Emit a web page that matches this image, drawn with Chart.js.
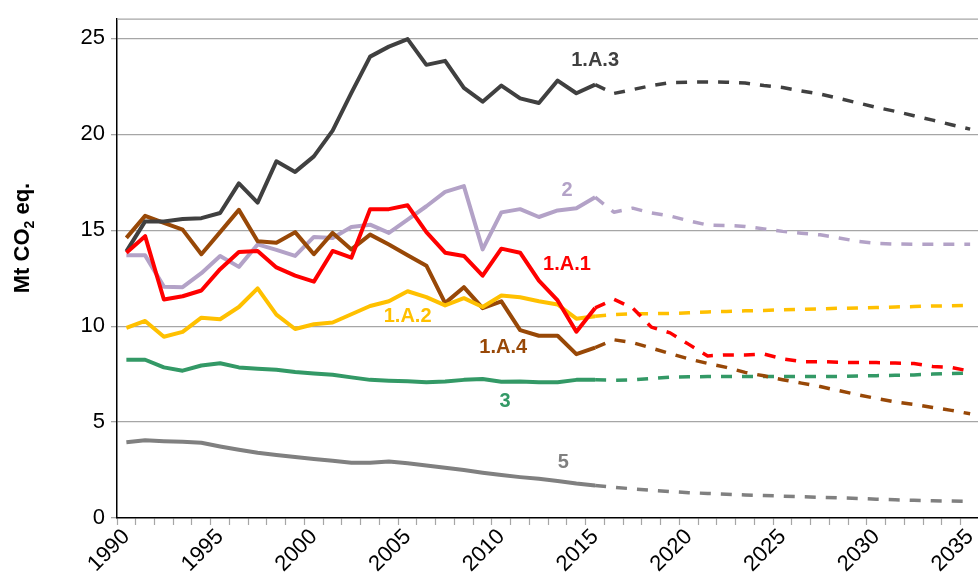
<!DOCTYPE html>
<html>
<head>
<meta charset="utf-8">
<script src="https://cdn.jsdelivr.net/npm/chart.js@4.4.1/dist/chart.umd.min.js"></script>
<style>
  html, body { margin: 0; padding: 0; background: #fff; overflow: hidden; }
  canvas { display: block; }
</style>
</head>
<body>
<canvas id="myChart" width="978" height="583"></canvas>
<script>
// years 1990-2035, history up to 2015, projection after
const years = [1990, 1991, 1992, 1993, 1994, 1995, 1996, 1997, 1998, 1999,
  2000, 2001, 2002, 2003, 2004, 2005, 2006, 2007, 2008, 2009,
  2010, 2011, 2012, 2013, 2014, 2015, 2016, 2017, 2018, 2019,
  2020, 2021, 2022, 2023, 2024, 2025, 2026, 2027, 2028, 2029,
  2030, 2031, 2032, 2033, 2034, 2035];
const lastHistoryYear = 2015;
const yTicks = [0, 5, 10, 15, 20, 25];
const xLabelYears = [1990, 1995, 2000, 2005, 2010, 2015, 2020, 2025, 2030, 2035];

const s1A1 = [13.83, 14.69, 11.39, 11.56, 11.86, 12.97, 13.87, 13.92, 13.06, 12.63,
  12.32, 13.92, 13.57, 16.1, 16.1, 16.3, 14.9, 13.83, 13.66, 12.63,
  14.04, 13.83, 12.37, 11.34, 9.71, 10.95, 11.4, 10.95, 9.95, 9.65,
  9.05, 8.45, 8.5, 8.5, 8.55, 8.3, 8.15, 8.15, 8.12, 8.1,
  8.1, 8.08, 8.05, 7.9, 7.85, 7.65];
const s1A2 = [9.91, 10.27, 9.45, 9.7, 10.44, 10.36, 11.0, 11.97, 10.6, 9.85,
  10.1, 10.19, 10.62, 11.05, 11.3, 11.82, 11.51, 11.08, 11.46, 11.0,
  11.6, 11.51, 11.3, 11.13, 10.39, 10.52, 10.6, 10.65, 10.65, 10.66,
  10.7, 10.74, 10.77, 10.8, 10.82, 10.85, 10.88, 10.9, 10.93, 10.95,
  10.97, 11.0, 11.02, 11.05, 11.06, 11.08];
const s1A3 = [13.9, 15.46, 15.46, 15.58, 15.63, 15.9, 17.44, 16.44, 18.59, 18.04,
  18.85, 20.19, 22.16, 24.05, 24.57, 24.96, 23.62, 23.83, 22.42, 21.7,
  22.54, 21.87, 21.63, 22.8, 22.14, 22.59, 22.13, 22.33, 22.54, 22.7,
  22.72, 22.73, 22.72, 22.67, 22.54, 22.44, 22.26, 22.1, 21.87, 21.64,
  21.4, 21.2, 20.97, 20.74, 20.5, 20.27];
const s1A4 = [14.6, 15.75, 15.38, 15.03, 13.75, 14.9, 16.06, 14.43, 14.35, 14.9,
  13.75, 14.86, 14.0, 14.77, 14.26, 13.7, 13.15, 11.2, 12.03, 10.94,
  11.29, 9.79, 9.5, 9.5, 8.54, 8.88, 9.29, 9.14, 8.86, 8.57,
  8.29, 8.06, 7.85, 7.59, 7.41, 7.21, 7.03, 6.85, 6.64, 6.43,
  6.23, 6.05, 5.92, 5.76, 5.61, 5.43];
const s2 = [13.69, 13.69, 12.06, 12.03, 12.76, 13.66, 13.09, 14.26, 13.98, 13.66,
  14.65, 14.6, 15.17, 15.29, 14.86, 15.55, 16.25, 17.0, 17.3, 14.0,
  15.93, 16.1, 15.69, 16.03, 16.15, 16.72, 15.94, 16.15, 15.9, 15.74,
  15.49, 15.27, 15.25, 15.2, 15.07, 14.94, 14.84, 14.76, 14.6, 14.42,
  14.32, 14.28, 14.27, 14.27, 14.27, 14.27];
const s3 = [8.25, 8.25, 7.85, 7.68, 7.95, 8.07, 7.85, 7.78, 7.73, 7.61,
  7.53, 7.47, 7.33, 7.2, 7.16, 7.13, 7.08, 7.12, 7.2, 7.25,
  7.1, 7.12, 7.08, 7.08, 7.2, 7.2, 7.18, 7.2, 7.27, 7.34,
  7.36, 7.37, 7.37, 7.37, 7.37, 7.37, 7.37, 7.37, 7.37, 7.4,
  7.42, 7.44, 7.46, 7.5, 7.53, 7.56];
const s5 = [3.95, 4.05, 4.0, 3.97, 3.92, 3.73, 3.56, 3.4, 3.28, 3.18,
  3.08, 2.98, 2.88, 2.88, 2.95, 2.85, 2.74, 2.62, 2.5, 2.36,
  2.24, 2.13, 2.04, 1.93, 1.8, 1.7, 1.6, 1.52, 1.45, 1.38,
  1.32, 1.28, 1.24, 1.2, 1.17, 1.14, 1.11, 1.08, 1.05, 1.02,
  0.98, 0.95, 0.92, 0.9, 0.88, 0.86];

const seriesNames = ['1.A.1', '1.A.2', '1.A.3', '1.A.4', '2', '3', '5'];
const seriesValues = [s1A1, s1A2, s1A3, s1A4, s2, s3, s5];
const seriesColors = ['#FF0000', '#FFC000', '#404040', '#984807', '#B3A2C7', '#339966', '#808080'];

// label anchors in data units (year, value)
const labelYears = [2013.5, 2005.0, 2015.0, 2010.1, 2013.5, 2010.2, 2013.3];
const labelValues = [13.23, 10.53, 23.83, 8.88, 17.08, 6.08, 2.87];

const FONT = "'Liberation Sans', Arial, sans-serif";
const histIndex = years.indexOf(lastHistoryYear);

const datasets = seriesNames.map((name, k) => ({
  label: name,
  data: years.map((yr, i) => ({ x: yr, y: seriesValues[k][i] })),
  borderColor: seriesColors[k],
  borderWidth: 4,
  borderJoinStyle: 'round',
  borderCapStyle: 'butt',
  pointRadius: 0,
  tension: 0,
  segment: {
    borderDash: ctx => ctx.p0DataIndex >= histIndex ? [11, 10] : undefined,
    borderWidth: ctx => ctx.p0DataIndex >= histIndex ? 3.5 : 4
  }
}));

const extras = {
  id: 'extras',
  afterDraw(chart) {
    const { ctx, chartArea, scales } = chart;
    ctx.save();
    // top frame line
    ctx.strokeStyle = '#A6A6A6';
    ctx.lineWidth = 1.3;
    ctx.beginPath();
    ctx.moveTo(chartArea.left, chartArea.top);
    ctx.lineTo(chartArea.right, chartArea.top);
    ctx.stroke();

    // series labels
    ctx.font = 'bold 20px ' + FONT;
    ctx.textAlign = 'center';
    ctx.textBaseline = 'middle';
    seriesNames.forEach((name, k) => {
      ctx.fillStyle = seriesColors[k];
      ctx.fillText(name, scales.x.getPixelForValue(labelYears[k]), scales.y.getPixelForValue(labelValues[k]));
    });

    // y axis title with subscript
    ctx.translate(23, 238);
    ctx.rotate(-Math.PI / 2);
    ctx.fillStyle = '#000';
    ctx.textAlign = 'left';
    ctx.textBaseline = 'middle';
    const big = 'bold 22px ' + FONT;
    const small = 'bold 14px ' + FONT;
    ctx.font = big;
    const w1 = ctx.measureText('Mt CO').width;
    ctx.font = small;
    const w2 = ctx.measureText('2').width;
    ctx.font = big;
    const w3 = ctx.measureText(' eq.').width;
    let x = -(w1 + w2 + w3) / 2;
    ctx.fillText('Mt CO', x, 0);
    x += w1;
    ctx.font = small;
    ctx.fillText('2', x, 7);
    x += w2;
    ctx.font = big;
    ctx.fillText(' eq.', x, 0);
    ctx.restore();
  }
};

const options = {
  type: 'line',
  data: { datasets: datasets },
  options: {
    responsive: false,
    animation: false,
    devicePixelRatio: 1,
    layout: { padding: { top: 14, left: 0, right: 0, bottom: 0 } },
    plugins: { legend: { display: false }, tooltip: { enabled: false } },
    scales: {
      x: {
        type: 'linear',
        min: 1989.5,
        max: 2035.42,
        afterBuildTicks: scale => {
          const t = [];
          years.forEach(yr => {
            t.push({ value: yr - 0.5 });
            if (xLabelYears.includes(yr)) t.push({ value: yr });
          });
          scale.ticks = t;
        },
        afterFit: scale => {
          scale.height = 65;
          scale.paddingLeft = 0;
          scale.paddingRight = 0;
        },
        ticks: {
          autoSkip: false,
          minRotation: 45,
          maxRotation: 45,
          padding: -1,
          color: '#000',
          font: { family: FONT, size: 22 },
          callback: v => xLabelYears.includes(v) ? String(v) : ''
        },
        grid: {
          drawOnChartArea: false,
          tickLength: 7,
          tickWidth: 1.2,
          tickColor: ctx => Number.isInteger(ctx.tick.value) ? 'rgba(0,0,0,0)' : '#A6A6A6'
        },
        border: { color: '#000', width: 1.5 }
      },
      y: {
        min: 0,
        max: 26,
        afterBuildTicks: scale => { scale.ticks = yTicks.map(v => ({ value: v })); },
        afterFit: scale => { scale.width = 117; },
        ticks: {
          padding: 6,
          color: '#000',
          font: { family: FONT, size: 22 }
        },
        grid: {
          color: ctx => ctx.tick.value === 0 ? 'rgba(0,0,0,0)' : '#A6A6A6',
          tickColor: '#A6A6A6',
          lineWidth: 1.3,
          tickLength: 6
        },
        border: { color: '#000', width: 1.5 }
      }
    }
  },
  plugins: [extras]
};

const ctx = document.getElementById('myChart').getContext('2d');
const myChart = new Chart(ctx, options);
</script>
</body>
</html>
